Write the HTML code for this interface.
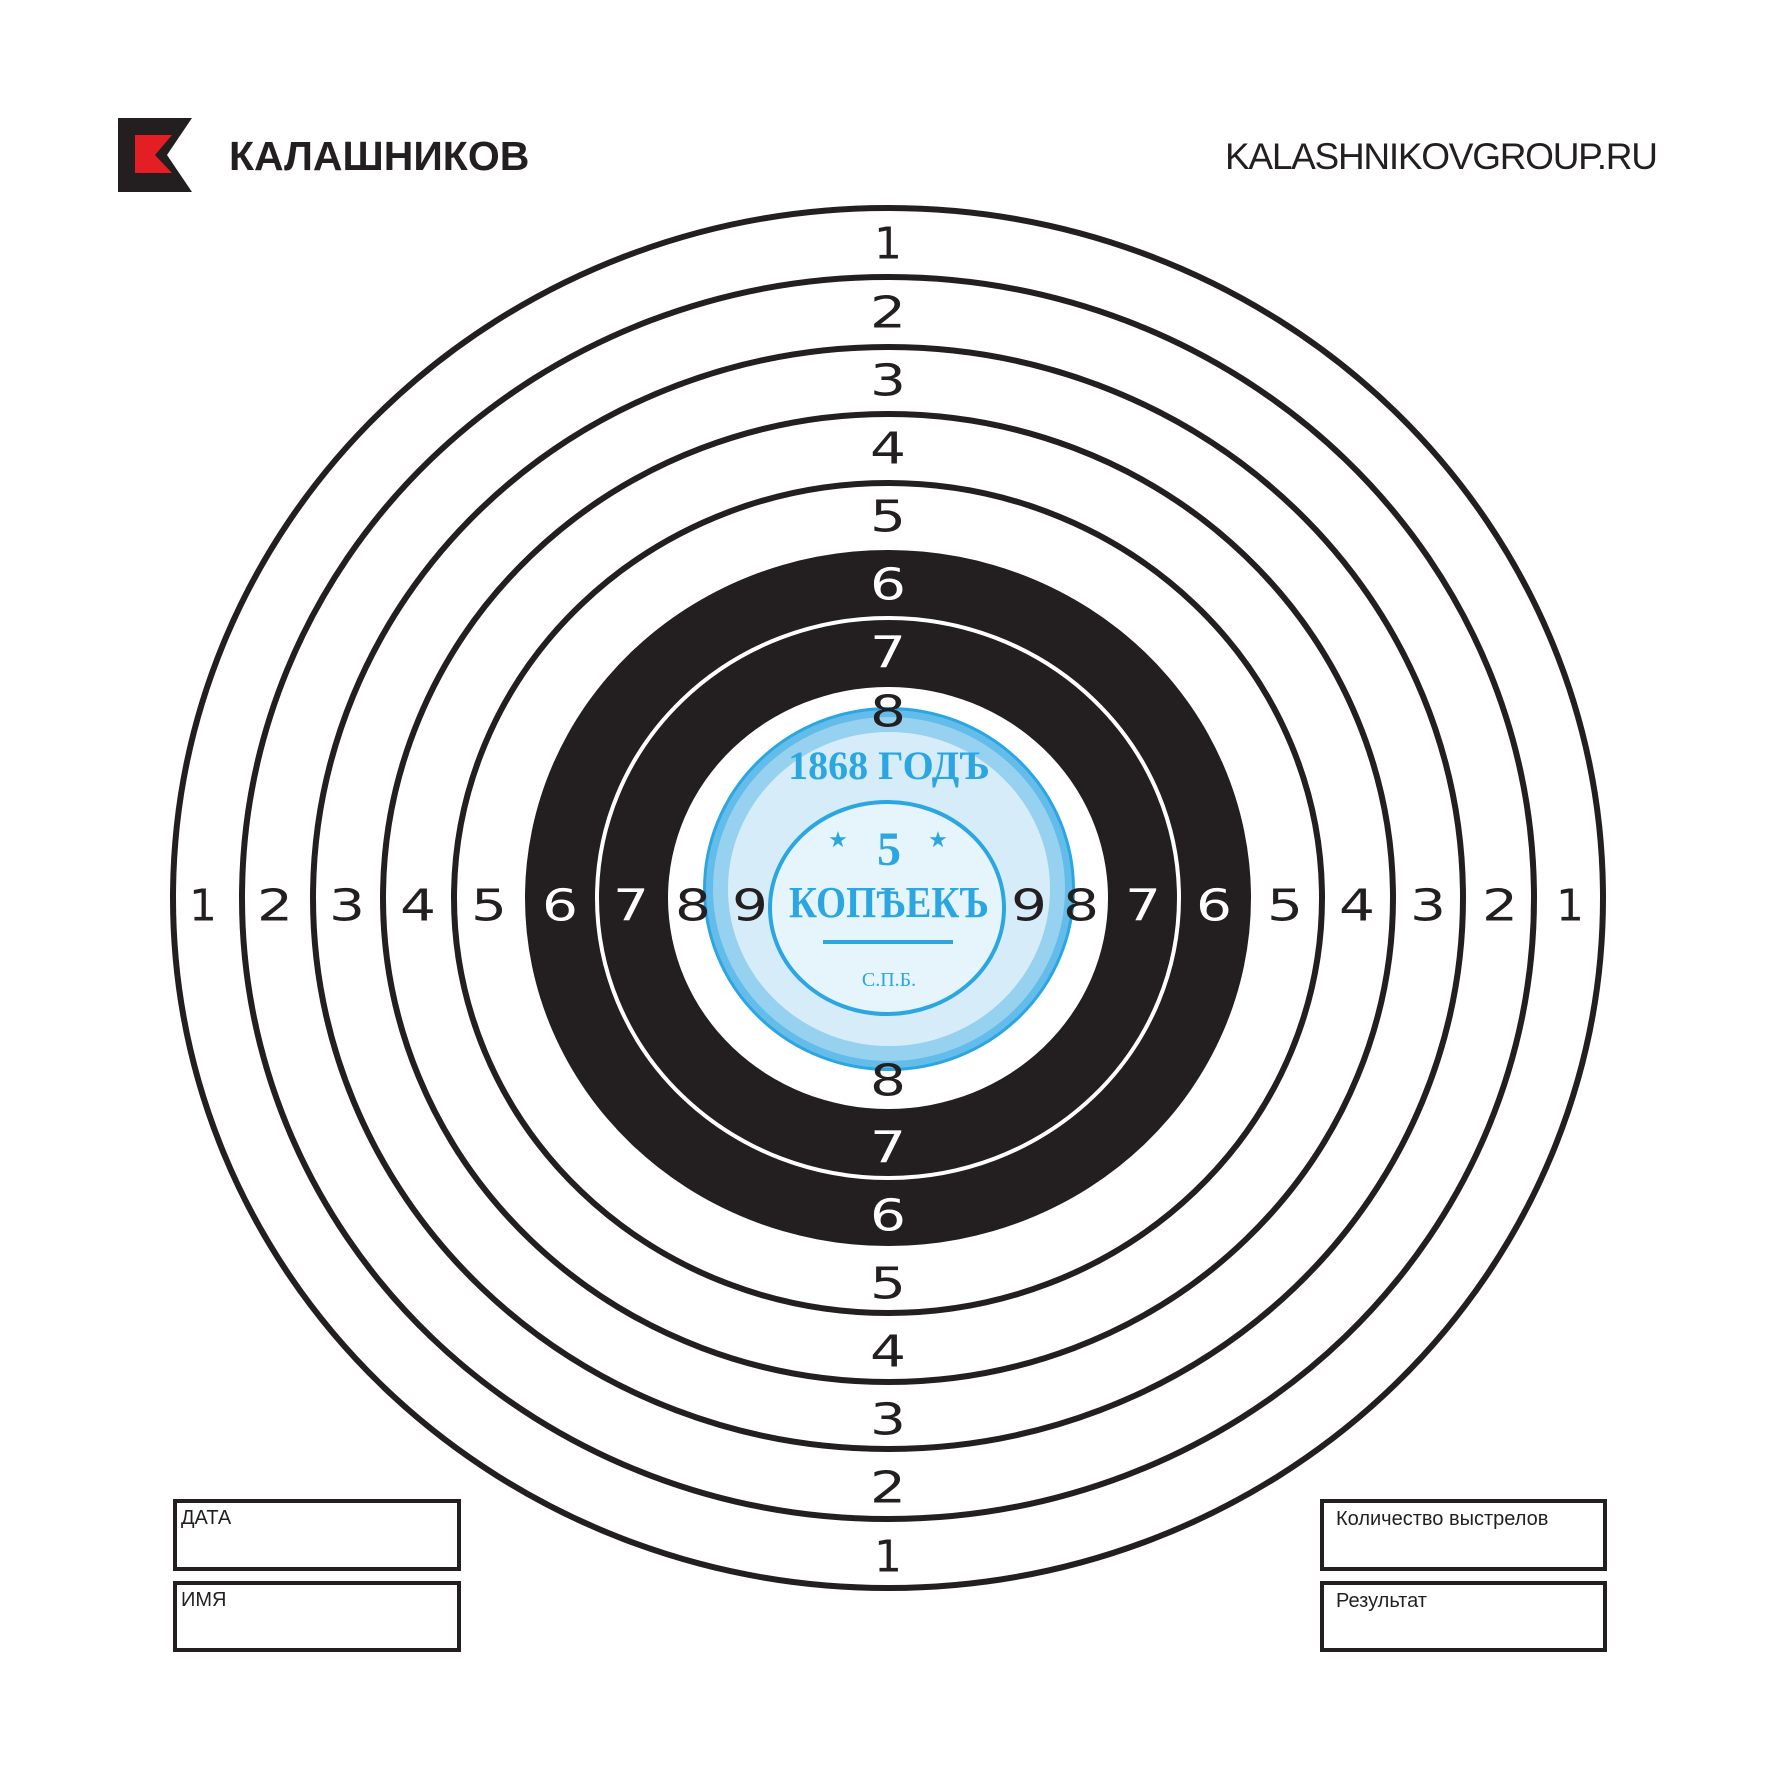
<!DOCTYPE html>
<html><head><meta charset="utf-8"><style>
html,body{margin:0;padding:0;background:#fff;}
svg{display:block}
.n{font-family:"DejaVu Sans","Liberation Sans",sans-serif;font-size:44px;text-anchor:middle;dominant-baseline:central;fill:#231f20}
.w{fill:#fff}
.lab{font-family:"Liberation Sans",sans-serif;font-size:20px;fill:#231f20}
</style></head><body>
<svg width="1772" height="1772" viewBox="0 0 1772 1772" xmlns="http://www.w3.org/2000/svg">
<rect width="1772" height="1772" fill="#fff"/>
<polygon points="118,118 192,118 167,155 192,192 118,192" fill="#231f20"/>
<polygon points="135,135 172,135 155,155 172,173 135,173" fill="#e31e24"/>
<text x="229" y="170" font-family="Liberation Sans, sans-serif" font-weight="bold" font-size="41" fill="#231f20">КАЛАШНИКОВ</text>
<text x="1658" y="169" text-anchor="end" font-family="Liberation Sans, sans-serif" font-size="37" fill="#231f20" textLength="433">KALASHNIKOVGROUP.RU</text>
<g fill="none" stroke="#231f20" stroke-width="6">
<ellipse cx="888" cy="898" rx="715" ry="690"/>
<ellipse cx="888" cy="898" rx="646" ry="621"/>
<ellipse cx="888" cy="898" rx="575" ry="551"/>
<ellipse cx="888" cy="898" rx="505" ry="484"/>
<ellipse cx="888" cy="898" rx="434" ry="415"/>
</g>
<ellipse cx="888" cy="898" rx="363" ry="348" fill="#231f20"/>
<ellipse cx="888" cy="898" rx="291" ry="280" fill="none" stroke="#fff" stroke-width="4"/>
<ellipse cx="888" cy="898" rx="220" ry="211" fill="#fff"/>
<ellipse cx="889" cy="889" rx="181" ry="177" fill="#d6ecf8" stroke="#2ba6e1" stroke-width="10"/>
<ellipse cx="889" cy="889" rx="172" ry="168" fill="none" stroke="#7cc6ec" stroke-width="22" opacity="0.7"/>
<ellipse cx="887" cy="908" rx="117" ry="106" fill="#e6f4fb" stroke="#2ba6e1" stroke-width="4"/>
<text x="889" y="779" text-anchor="middle" font-family="Liberation Serif, serif" font-weight="bold" font-size="40" fill="#2ba6e1">1868 ГОДЪ</text>
<text x="889" y="865" text-anchor="middle" font-family="Liberation Serif, serif" font-weight="bold" font-size="48" fill="#2ba6e1">5</text>
<text x="838" y="847" text-anchor="middle" font-size="22" fill="#2ba6e1">★</text>
<text x="938" y="847" text-anchor="middle" font-size="22" fill="#2ba6e1">★</text>
<text x="889" y="917" text-anchor="middle" font-family="Liberation Serif, serif" font-weight="bold" font-size="44" fill="#2ba6e1" textLength="200" lengthAdjust="spacingAndGlyphs">КОПѢЕКЪ</text>
<line x1="823" y1="942" x2="953" y2="942" stroke="#2ba6e1" stroke-width="4"/>
<text x="889" y="986" text-anchor="middle" font-family="Liberation Serif, serif" font-size="20" fill="#2ba6e1">С.П.Б.</text>
<g>
<text class="n" x="203" y="906">1</text>
<text class="n" x="275" y="906" textLength="36" lengthAdjust="spacingAndGlyphs">2</text>
<text class="n" x="347" y="906" textLength="36" lengthAdjust="spacingAndGlyphs">3</text>
<text class="n" x="418" y="906" textLength="36" lengthAdjust="spacingAndGlyphs">4</text>
<text class="n" x="489" y="906" textLength="36" lengthAdjust="spacingAndGlyphs">5</text>
<text class="n w" x="560" y="906" textLength="36" lengthAdjust="spacingAndGlyphs">6</text>
<text class="n w" x="631" y="906" textLength="36" lengthAdjust="spacingAndGlyphs">7</text>
<text class="n" x="693" y="906" textLength="36" lengthAdjust="spacingAndGlyphs">8</text>
<text class="n" x="750" y="906" textLength="36" lengthAdjust="spacingAndGlyphs">9</text>
<text class="n" x="1029" y="906" textLength="36" lengthAdjust="spacingAndGlyphs">9</text>
<text class="n" x="1081" y="906" textLength="36" lengthAdjust="spacingAndGlyphs">8</text>
<text class="n w" x="1143" y="906" textLength="36" lengthAdjust="spacingAndGlyphs">7</text>
<text class="n w" x="1214" y="906" textLength="36" lengthAdjust="spacingAndGlyphs">6</text>
<text class="n" x="1285" y="906" textLength="36" lengthAdjust="spacingAndGlyphs">5</text>
<text class="n" x="1357" y="906" textLength="36" lengthAdjust="spacingAndGlyphs">4</text>
<text class="n" x="1428" y="906" textLength="36" lengthAdjust="spacingAndGlyphs">3</text>
<text class="n" x="1500" y="906" textLength="36" lengthAdjust="spacingAndGlyphs">2</text>
<text class="n" x="1570" y="906">1</text>
<text class="n" x="888" y="244">1</text>
<text class="n" x="888" y="313" textLength="36" lengthAdjust="spacingAndGlyphs">2</text>
<text class="n" x="888" y="381" textLength="36" lengthAdjust="spacingAndGlyphs">3</text>
<text class="n" x="888" y="449" textLength="36" lengthAdjust="spacingAndGlyphs">4</text>
<text class="n" x="888" y="517" textLength="36" lengthAdjust="spacingAndGlyphs">5</text>
<text class="n w" x="888" y="585" textLength="36" lengthAdjust="spacingAndGlyphs">6</text>
<text class="n w" x="888" y="653" textLength="36" lengthAdjust="spacingAndGlyphs">7</text>
<text class="n" x="888" y="712" textLength="36" lengthAdjust="spacingAndGlyphs">8</text>
<text class="n" x="888" y="1081" textLength="36" lengthAdjust="spacingAndGlyphs">8</text>
<text class="n w" x="888" y="1148" textLength="36" lengthAdjust="spacingAndGlyphs">7</text>
<text class="n w" x="888" y="1216" textLength="36" lengthAdjust="spacingAndGlyphs">6</text>
<text class="n" x="888" y="1284" textLength="36" lengthAdjust="spacingAndGlyphs">5</text>
<text class="n" x="888" y="1352" textLength="36" lengthAdjust="spacingAndGlyphs">4</text>
<text class="n" x="888" y="1420" textLength="36" lengthAdjust="spacingAndGlyphs">3</text>
<text class="n" x="888" y="1488" textLength="36" lengthAdjust="spacingAndGlyphs">2</text>
<text class="n" x="888" y="1557">1</text>
</g>
<g fill="none" stroke="#231f20" stroke-width="4">
<rect x="175" y="1501" width="284" height="68"/>
<rect x="175" y="1583" width="284" height="67"/>
<rect x="1322" y="1501" width="283" height="68"/>
<rect x="1322" y="1583" width="283" height="67"/>
</g>
<text class="lab" x="181" y="1524">ДАТА</text>
<text class="lab" x="181" y="1606">ИМЯ</text>
<text class="lab" x="1336" y="1525">Количество  выстрелов</text>
<text class="lab" x="1336" y="1607">Результат</text>
</svg>
</body></html>
